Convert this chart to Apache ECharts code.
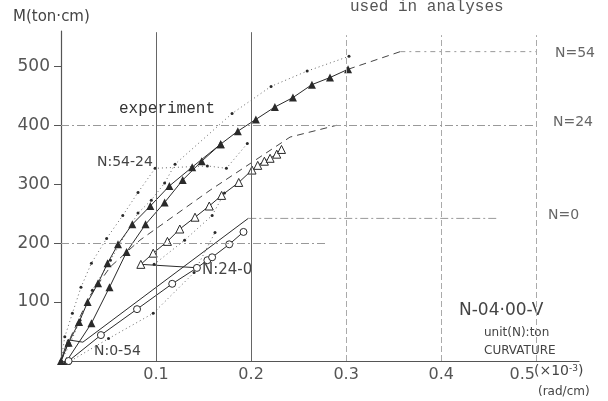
<!DOCTYPE html>
<html>
<head>
<meta charset="utf-8">
<script src="https://cdn.jsdelivr.net/npm/echarts@6/dist/echarts.min.js"></script>
<style>
html,body{margin:0;padding:0;background:#fff}
#main{width:608px;height:401px}
</style>
</head>
<body>
<div id="main"></div>
<script>
// tick values (curvature x10^-3 rad/cm, moment ton.cm)
var xTicks = [0.1, 0.2, 0.3, 0.4, 0.5];
var yTicks = [100, 200, 300, 400, 500];

// experiment (dotted, small dots)
var expA = [[0,0],[0.004,41],[0.012,81],[0.021,125],[0.032,166],[0.048,208],[0.065,247],[0.081,286],[0.099,327],[0.154,331],[0.174,327],[0.196,369]];
var expB = [[0,0],[0.009,27],[0.02,69],[0.033,120],[0.052,171],[0.081,251],[0.095,273],[0.109,302],[0.12,334],[0.18,420],[0.221,466],[0.259,492],[0.303,517]];
var expC = [[0.098,164],[0.13,205],[0.159,247],[0.172,285]];
var expD = [[0.01,0],[0.05,38],[0.097,81],[0.14,150],[0.162,218]];

// filled triangles
var triA = [[0,0],[0.008,31],[0.019,66],[0.028,100],[0.039,132],[0.049,166],[0.06,198],[0.075,232],[0.094,263],[0.114,297],[0.138,329],[0.168,368],[0.186,390],[0.205,410],[0.225,431],[0.244,447],[0.264,469],[0.283,481],[0.302,495]];
var triB = [[0.006,0],[0.032,64],[0.051,125],[0.069,185],[0.089,232],[0.109,269],[0.128,307],[0.148,339],[0.168,368]];
// open triangles
var triOpen = [[0.084,164],[0.097,183],[0.112,203],[0.125,224],[0.141,244],[0.156,263],[0.169,281],[0.187,303],[0.201,324],[0.207,332],[0.214,339],[0.22,344],[0.227,351],[0.232,359]];
var path24to0 = [[0.084,164],[0.146,158]];
// open circles
var circOpen = [[0.008,0],[0.042,44],[0.08,88],[0.117,131],[0.143,158],[0.154,171],[0.159,176],[0.177,198],[0.192,219]];

// analysis lines
var anaN0 = [[0,0],[0.007,36],[0.023,32],[0.197,242]];
var anaN0flat = [[0.197,242],[0.46,242]];
var anaN24 = [[0,0],[0.01,40],[0.03,110],[0.052,160],[0.083,205],[0.157,290],[0.241,380],[0.29,400]];
var anaN54 = [[0.302,495],[0.357,525]];
var anaN54flat = [[0.357,525],[0.5,525]];

var ink = '#2a2a2a';
var grey = '#666';

function dotted(data) {
  return {
    type: 'line', data: data, symbol: 'circle', symbolSize: 3,
    itemStyle: {color: ink}, lineStyle: {color: grey, width: 1, type: [1, 3]},
    z: 3
  };
}

var myChart = echarts.init(document.getElementById('main'));
myChart.setOption({
  animation: false,
  grid: {left: 61, right: 29, top: 31, bottom: 40},
  xAxis: {
    type: 'value', min: 0, max: 0.545, interval: 0.1,
    axisLine: {lineStyle: {color: '#555', width: 1.2}},
    axisTick: {show: true, customValues: xTicks, length: 4, inside: true, lineStyle: {color: '#555'}},
    axisLabel: {
      customValues: xTicks, margin: 6, color: '#555', fontSize: 16,
      fontFamily: 'DejaVu Sans',
      formatter: function (v) {
        var s = (+v).toFixed(1);
        return s === '0.5' ? '{s|' + s + '}' : s;
      },
      rich: {s: {fontSize: 16, fontFamily: 'DejaVu Sans', color: '#555', padding: [0, 28, 0, 0]}}
    },
    splitLine: {show: false}
  },
  yAxis: {
    type: 'value', min: 0, max: 560, interval: 100,
    axisLine: {show: true, lineStyle: {color: '#555', width: 1.2}},
    axisTick: {show: true, customValues: yTicks, length: 7, lineStyle: {color: '#555'}},
    axisLabel: {customValues: yTicks, margin: 11, color: '#555', fontSize: 17, fontFamily: 'DejaVu Sans'},
    splitLine: {show: false}
  },
  series: [
    {
      type: 'line', data: anaN0, symbol: 'none',
      lineStyle: {color: ink, width: 1},
      markLine: {
        silent: true, symbol: 'none', label: {show: false},
        data: xTicks.map(function (t, i) {
          return [{coord: [t, 0], lineStyle: {color: i < 2 ? '#666' : '#aaa', width: 1, type: i < 2 ? 'solid' : [6, 3]}},
                  {coord: [t, i < 2 ? 558 : 553]}];
        }).concat([
          [{coord: [0, 200], lineStyle: {color: '#999', width: 1, type: [8, 3, 2, 3]}}, {coord: [0.28, 200]}],
          [{coord: [0, 400], lineStyle: {color: '#999', width: 1, type: [8, 3, 2, 3]}}, {coord: [0.5, 400]}]
        ])
      }
    },
    {type: 'line', data: anaN0flat, symbol: 'none', lineStyle: {color: '#999', width: 1, type: [8, 3, 2, 3]}},
    {type: 'line', data: anaN24, symbol: 'none', lineStyle: {color: '#444', width: 1, type: [7, 5]}},
    {type: 'line', data: anaN54, symbol: 'none', lineStyle: {color: '#444', width: 1, type: [7, 5]}},
    {type: 'line', data: anaN54flat, symbol: 'none', lineStyle: {color: '#999', width: 1, type: [5, 4, 2, 4]}},
    dotted(expA), dotted(expB), dotted(expC), dotted(expD),
    {
      type: 'line', data: triA, symbol: 'triangle', symbolSize: 8,
      itemStyle: {color: ink}, lineStyle: {color: ink, width: 1}, z: 4
    },
    {
      type: 'line', data: triB, symbol: 'triangle', symbolSize: 8,
      itemStyle: {color: ink}, lineStyle: {color: ink, width: 1}, z: 4
    },
    {type: 'line', data: path24to0, symbol: 'none', lineStyle: {color: ink, width: 1}},
    {
      type: 'line', data: triOpen, symbol: 'triangle', symbolSize: 8, showAllSymbol: true,
      itemStyle: {color: '#fff', borderColor: ink, borderWidth: 1}, lineStyle: {color: ink, width: 1}, z: 4
    },
    {
      type: 'line', data: circOpen, symbol: 'circle', symbolSize: 7, showAllSymbol: true,
      itemStyle: {color: '#fff', borderColor: ink, borderWidth: 1}, lineStyle: {color: ink, width: 1}, z: 4
    }
  ],
  graphic: [
    {type: 'text', left: 13, top: 10, style: {text: 'M(ton·cm)', fill: '#444', font: '15px DejaVu Sans'}},
    {type: 'text', left: 350, top: -1, style: {text: 'used in analyses', fill: '#555', font: '16px Liberation Mono'}},
    {type: 'text', left: 119, top: 101, style: {text: 'experiment', fill: '#333', font: '16px Liberation Mono'}},
    {type: 'text', left: 97, top: 155, style: {text: 'N:54-24', fill: '#444', font: '14px DejaVu Sans'}},
    {type: 'text', left: 202, top: 263, style: {text: 'N:24-0', fill: '#444', font: '15px DejaVu Sans'}},
    {type: 'text', left: 94, top: 344, style: {text: 'N:0-54', fill: '#444', font: '14px DejaVu Sans'}},
    {type: 'text', left: 555, top: 46, style: {text: 'N=54', fill: '#666', font: '14px DejaVu Sans'}},
    {type: 'text', left: 553, top: 115, style: {text: 'N=24', fill: '#666', font: '14px DejaVu Sans'}},
    {type: 'text', left: 548, top: 208, style: {text: 'N=0', fill: '#666', font: '14px DejaVu Sans'}},
    {type: 'text', left: 459, top: 302, style: {text: 'N-04·00-V', fill: '#444', font: '17px DejaVu Sans'}},
    {type: 'text', left: 484, top: 327, style: {text: 'unit(N):ton', fill: '#444', font: '12px DejaVu Sans'}},
    {type: 'text', left: 484, top: 345, style: {text: 'CURVATURE', fill: '#444', font: '12px DejaVu Sans'}},
    {
      type: 'text', left: 534, top: 364,
      style: {
        text: '{a|(×10}{b|-3}{a|)}', fill: '#444',
        rich: {a: {fontSize: 14, fontFamily: 'DejaVu Sans', fill: '#444'},
               b: {fontSize: 9, fontFamily: 'DejaVu Sans', fill: '#444', verticalAlign: 'top'}}
      }
    },
    {type: 'text', left: 538, top: 386, style: {text: '(rad/cm)', fill: '#444', font: '12px DejaVu Sans'}}
  ]
});
</script>
</body>
</html>
